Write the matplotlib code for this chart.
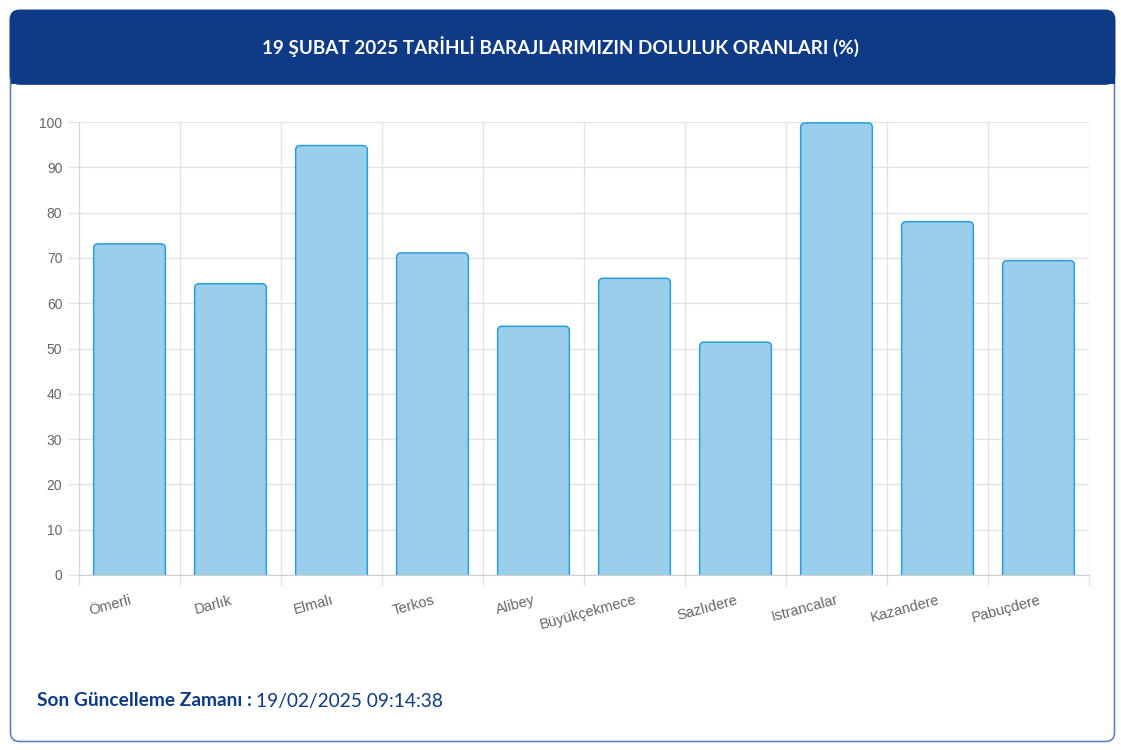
import matplotlib
matplotlib.use("Agg")
import matplotlib.pyplot as plt
from matplotlib.patches import FancyBboxPatch, Rectangle
import numpy as np

# data
barajlar = ['Ömerli', 'Darlık', 'Elmalı', 'Terkos', 'Alibey', 'Büyükçekmece',
            'Sazlıdere', 'Istrancalar', 'Kazandere', 'Pabuçdere']
doluluk = [73.1, 64.3, 94.8, 71.1, 54.9, 65.5, 51.4, 99.8, 78.0, 69.4]
y_ticks = [0, 10, 20, 30, 40, 50, 60, 70, 80, 90, 100]

baslik = '19 ŞUBAT 2025 TARİHLİ BARAJLARIMIZIN DOLULUK ORANLARI (%)'
guncelleme_etiket = 'Son Güncelleme Zamanı :'
guncelleme_zaman = '19/02/2025 09:14:38'

W, H = 1121, 750
lacivert = '#0f3a85'
bar_fill = '#9acfeb'
bar_edge = '#2b9ce0'
grid_c = '#e3e3e3'

fig = plt.figure(figsize=(W / 100, H / 100), dpi=100)
fig.patch.set_facecolor('white')

# background "card" in pixel units
bg = fig.add_axes([0, 0, 1, 1], zorder=0)
bg.set_xlim(0, W)
bg.set_ylim(H, 0)
bg.axis('off')

card = FancyBboxPatch((10.5, 10.5), 1104, 731, boxstyle='round,pad=0,rounding_size=9',
                      facecolor='white', edgecolor='#5f82b8', linewidth=1.2)
bg.add_patch(card)
header = FancyBboxPatch((10.5, 10.5), 1104, 73.5, boxstyle='round,pad=0,rounding_size=9',
                        facecolor=lacivert, edgecolor=lacivert, linewidth=1.2)
bg.add_patch(header)
bg.add_patch(Rectangle((10.5, 60), 1104, 24, facecolor=lacivert, edgecolor='none'))

bg.text(W / 2, 47, baslik, color='white', fontsize=13.6, fontweight='bold',
        family=['Lato', 'DejaVu Sans'], ha='center', va='center')

t1 = bg.text(37, 701, guncelleme_etiket + ' ', color=lacivert, fontsize=13.8,
             fontweight='bold', family=['Lato', 'DejaVu Sans'], ha='left', va='center')
fig.canvas.draw()
bb = t1.get_window_extent()
x_end = bb.x1 / fig.dpi / (W / 100) * W
bg.text(x_end, 701, guncelleme_zaman, color=lacivert, fontsize=13.8,
        family=['Lato', 'DejaVu Sans'], ha='left', va='center')

# chart axes
ax = fig.add_axes([79 / W, 1 - 575 / H, (1089 - 79) / W, (575 - 122) / H], zorder=1)
ax.set_facecolor('none')

x = np.arange(len(barajlar))
bars = ax.bar(x, doluluk, width=0.71, color=bar_fill, edgecolor=bar_edge, linewidth=1.1)

# rounded tops: redraw each bar from its own geometry, bottom clipped by the axes
for b in bars:
    b.set_visible(False)
    patch = FancyBboxPatch((b.get_x(), -3), b.get_width(), b.get_height() + 3,
                           boxstyle='round,pad=0,rounding_size=0.045',
                           mutation_aspect=22, facecolor=bar_fill,
                           edgecolor=bar_edge, linewidth=1.1, clip_on=True, zorder=2)
    ax.add_patch(patch)

ax.set_xlim(-0.5, len(barajlar) - 0.5)
ax.set_ylim(0, 100)
ax.set_yticks(y_ticks)
ax.set_xticks(x)
ax.set_xticklabels(barajlar, rotation=15, ha='right', rotation_mode='anchor',
                   family=['Liberation Sans', 'DejaVu Sans'], fontsize=10.5, color='#666666')
ax.set_xticks(np.arange(len(barajlar) + 1) - 0.5, minor=True)
for lab in ax.get_yticklabels():
    lab.set_family(['Liberation Sans', 'DejaVu Sans'])
    lab.set_fontsize(10)
    lab.set_color('#666666')

ax.grid(True, axis='y', which='major', color=grid_c, linewidth=1)
ax.grid(True, axis='x', which='minor', color=grid_c, linewidth=1)
ax.grid(False, axis='x', which='major')
ax.set_axisbelow(True)

ax.tick_params(axis='x', which='major', length=0, pad=13)
ax.tick_params(axis='x', which='minor', length=8, color=grid_c, width=1)
ax.tick_params(axis='y', length=8, color=grid_c, width=1, pad=4)

for side in ['top', 'right']:
    ax.spines[side].set_visible(False)
ax.spines['left'].set_color('#d8d8d8')
ax.spines['bottom'].set_color('#cfcfcf')

fig.savefig('out.png', dpi=100)
